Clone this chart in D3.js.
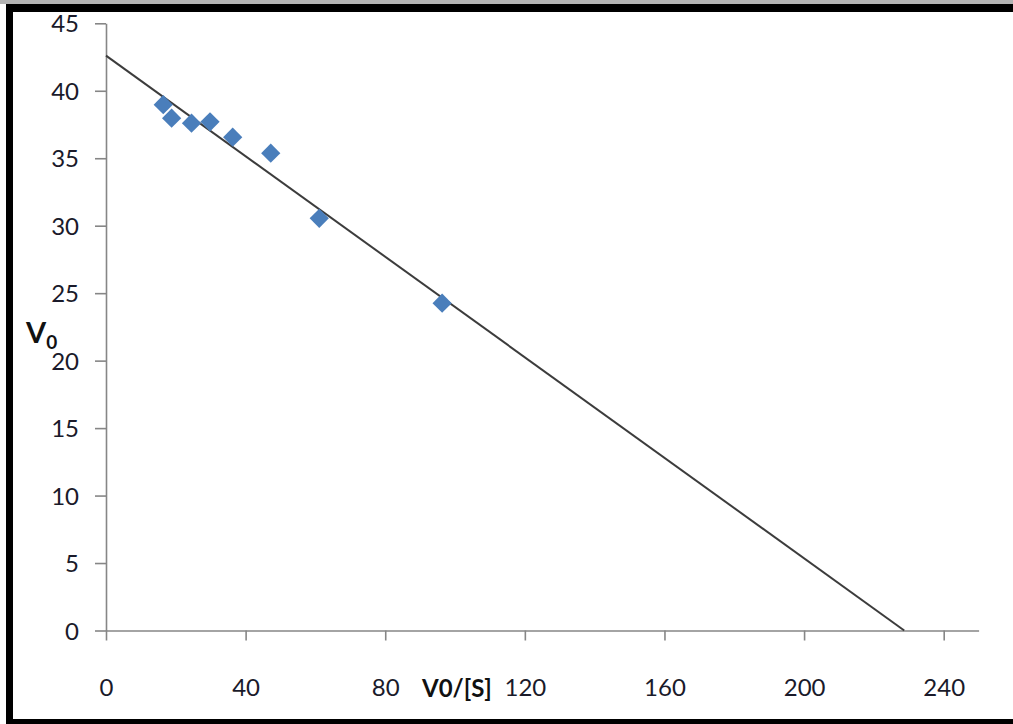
<!DOCTYPE html>
<html>
<head>
<meta charset="utf-8">
<script src="https://cdn.jsdelivr.net/npm/d3@7"></script>
<style>
  html, body { margin: 0; padding: 0; background: #fff; }
  svg { display: block; font-family: Lato, "Open Sans", sans-serif; }
  .axis path, .axis line { stroke: #868686; stroke-width: 1.6; }
  .axis text { font-family: Lato, "Open Sans", sans-serif; font-size: 24px; fill: #1a1a2a; }
</style>
</head>
<body>
<div id="chart"></div>
<script>
// ── Data ────────────────────────────────────────────────────────────────
const xValues = [16.4, 18.8, 24.5, 29.8, 36.3, 47.2, 61.1, 96.3];
const yValues = [38.97, 37.97, 37.6, 37.7, 36.56, 35.37, 30.55, 24.26];

// trendline end points (x, y)
const trendX = [0, 228.7];
const trendY = [42.6, 0];

const xTicks = [0, 40, 80, 120, 160, 200, 240];
const yTicks = [0, 5, 10, 15, 20, 25, 30, 35, 40, 45];

// ── Layout ──────────────────────────────────────────────────────────────
const WIDTH = 1013;
const HEIGHT = 724;
const PLOT = {left: 106, right: 978.6, top: 23.3, bottom: 630.5};

const svg = d3.select('#chart')
.append('svg')
.attr('width', WIDTH)
.attr('height', HEIGHT);

// frame: gray strip on top, black bands top / left / bottom
svg.append('rect').attr('x', 0).attr('y', 0).attr('width', WIDTH).attr('height', 4).attr('fill', '#b4b4b4');
svg.append('rect').attr('x', 6).attr('y', 4).attr('width', WIDTH - 6).attr('height', 8).attr('fill', '#000');
svg.append('rect').attr('x', 6).attr('y', 4).attr('width', 7).attr('height', HEIGHT - 4).attr('fill', '#000');
svg.append('rect').attr('x', 6).attr('y', 719).attr('width', WIDTH - 6).attr('height', 5).attr('fill', '#000');

const xScale = d3.scaleLinear().domain([0, 250]).range([PLOT.left, PLOT.right]);
const yScale = d3.scaleLinear().domain([0, 45]).range([PLOT.bottom, PLOT.top]);

// y axis
const yAxisGroup = svg.append('g')
.attr('class', 'axis')
.attr('transform', `translate(${PLOT.left},0)`)
.call(d3.axisLeft(yScale).tickValues(yTicks).tickSize(11).tickSizeOuter(0).tickPadding(16));

yAxisGroup.selectAll('text').attr('dy', '0.36em');

// x axis
svg.append('g')
.attr('class', 'axis')
.attr('transform', `translate(0,${PLOT.bottom})`)
.call(d3.axisBottom(xScale).tickValues(xTicks).tickSize(10).tickSizeOuter(0).tickPadding(38));

// trendline
svg.append('line')
.attr('x1', xScale(trendX[0]))
.attr('y1', yScale(trendY[0]))
.attr('x2', xScale(trendX[1]))
.attr('y2', yScale(trendY[1]))
.attr('stroke', '#3c3c3c')
.attr('stroke-width', 2);

// diamond markers
const points = xValues.map((x, i) => ({x, y: yValues[i]}));
const diamond = d3.symbol().type(d3.symbolSquare).size(185);

svg.selectAll('.point')
.data(points)
.join('path')
.attr('class', 'point')
.attr('d', diamond)
.attr('transform', (d) => `translate(${xScale(d.x)},${yScale(d.y)}) rotate(45)`)
.attr('fill', '#4a7ebb');

// axis titles
const yTitle = svg.append('text')
.attr('x', 26)
.attr('y', 343)
.attr('font-weight', 'bold')
.attr('font-size', 29)
.attr('fill', '#111');
yTitle.append('tspan').text('V');
yTitle.append('tspan').attr('font-size', 19).attr('dy', 6).text('0');

svg.append('text')
.attr('x', 422)
.attr('y', 697)
.attr('font-weight', 'bold')
.attr('font-size', 24)
.attr('fill', '#111')
.text('V0/[S]');
</script>
</body>
</html>
